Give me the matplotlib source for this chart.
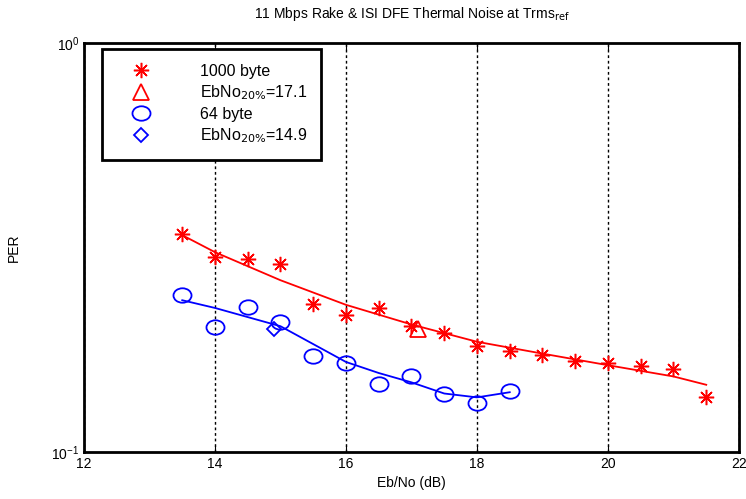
import matplotlib.pyplot as plt
from matplotlib.lines import Line2D
from matplotlib.path import Path
from matplotlib.transforms import Affine2D
from matplotlib.ticker import LogLocator, NullLocator

# measured points
ebno = [13.5, 14.0, 14.5, 15.0, 15.5, 16.0, 16.5, 17.0, 17.5, 18.0, 18.5,
        19.0, 19.5, 20.0, 20.5, 21.0, 21.5]
per_1000 = [0.341, 0.300, 0.296, 0.288, 0.230, 0.216, 0.225, 0.203, 0.195,
            0.182, 0.177, 0.173, 0.167, 0.165, 0.162, 0.160, 0.136]

ebno_64 = [13.5, 14.0, 14.5, 15.0, 15.5, 16.0, 16.5, 17.0, 17.5, 18.0, 18.5]
per_64 = [0.242, 0.202, 0.226, 0.208, 0.172, 0.165, 0.147, 0.153, 0.139,
          0.132, 0.141]

# smoothed curves
fit_x_1000 = [13.5, 14.0, 15.0, 16.0, 17.0, 18.0, 19.0, 20.0, 21.0, 21.5]
fit_y_1000 = [0.339, 0.308, 0.263, 0.229, 0.205, 0.186, 0.174, 0.163, 0.153, 0.146]
fit_x_64 = [13.5, 14.0, 15.0, 16.0, 16.5, 17.0, 17.5, 18.0, 18.5]
fit_y_64 = [0.235, 0.225, 0.203, 0.166, 0.156, 0.148, 0.139, 0.136, 0.140]

# 20% crossing points
ebno20_1000 = 17.1
ebno20_64 = 14.9
per20 = 0.2

plt.rcParams['font.family'] = ['Liberation Sans', 'DejaVu Sans']

fig = plt.figure(figsize=(7.46, 4.99), dpi=100)
ax = fig.add_axes([0.1126, 0.0942, 0.8780, 0.8196])

star = (8, 2, 0)
# circles look slightly squashed in the original
ring = Path.unit_circle().transformed(Affine2D().scale(1.0, 0.8))

ax.plot(fit_x_1000, fit_y_1000, color='red', lw=1.3)
ax.plot(fit_x_64, fit_y_64, color='blue', lw=1.3)
ax.plot(ebno, per_1000, ls='none', marker=star, ms=11, mew=1.1, color='red')
ax.plot(ebno_64, per_64, ls='none', marker=ring, ms=13, mfc='none', mew=1.3,
        color='blue')
ax.plot([ebno20_1000], [per20], ls='none', marker='^', ms=11, mfc='none',
        mew=1.3, color='red')
ax.plot([ebno20_64], [per20], ls='none', marker='D', ms=7.5, mfc='none',
        mew=1.3, color='blue')

ax.set_yscale('log')
ax.set_xlim(12, 22)
ax.set_ylim(0.1, 1)
ax.set_xticks([12, 14, 16, 18, 20, 22])
ax.yaxis.set_major_locator(LogLocator(base=10))
ax.yaxis.set_minor_locator(NullLocator())
ax.tick_params(direction='in', top=True, right=True, labelsize=10, length=5)
ax.grid(axis='x', color='black', ls=(0, (2, 2)), lw=1)
for s in ax.spines.values():
    s.set_linewidth(2)

ax.set_xlabel('Eb/No (dB)', fontsize=10)
ax.set_ylabel('PER', fontsize=10, labelpad=22)
ax.set_title(r'11 Mbps Rake & ISI DFE Thermal Noise at Trms$_{\mathrm{ref}}$',
             fontsize=10, pad=18)

handles = [
    Line2D([], [], ls='none', marker=star, ms=11, mew=1.1, color='red'),
    Line2D([], [], ls='none', marker='^', ms=11, mfc='none', mew=1.3, color='red'),
    Line2D([], [], ls='none', marker=ring, ms=13, mfc='none', mew=1.3, color='blue'),
    Line2D([], [], ls='none', marker='D', ms=7.5, mfc='none', mew=1.3, color='blue'),
]
labels = ['1000 byte', r'EbNo$_{20\%}$=17.1', '64 byte', r'EbNo$_{20\%}$=14.9']
leg = ax.legend(handles, labels, loc='upper left', bbox_to_anchor=(0.028, 0.985),
                fancybox=False, edgecolor='black', framealpha=1, fontsize=11.5,
                handletextpad=2.2, borderpad=0.9, labelspacing=0.3,
                borderaxespad=0.0, handlelength=3.0)
leg.get_frame().set_linewidth(2)

fig.savefig('out.png', dpi=100)
